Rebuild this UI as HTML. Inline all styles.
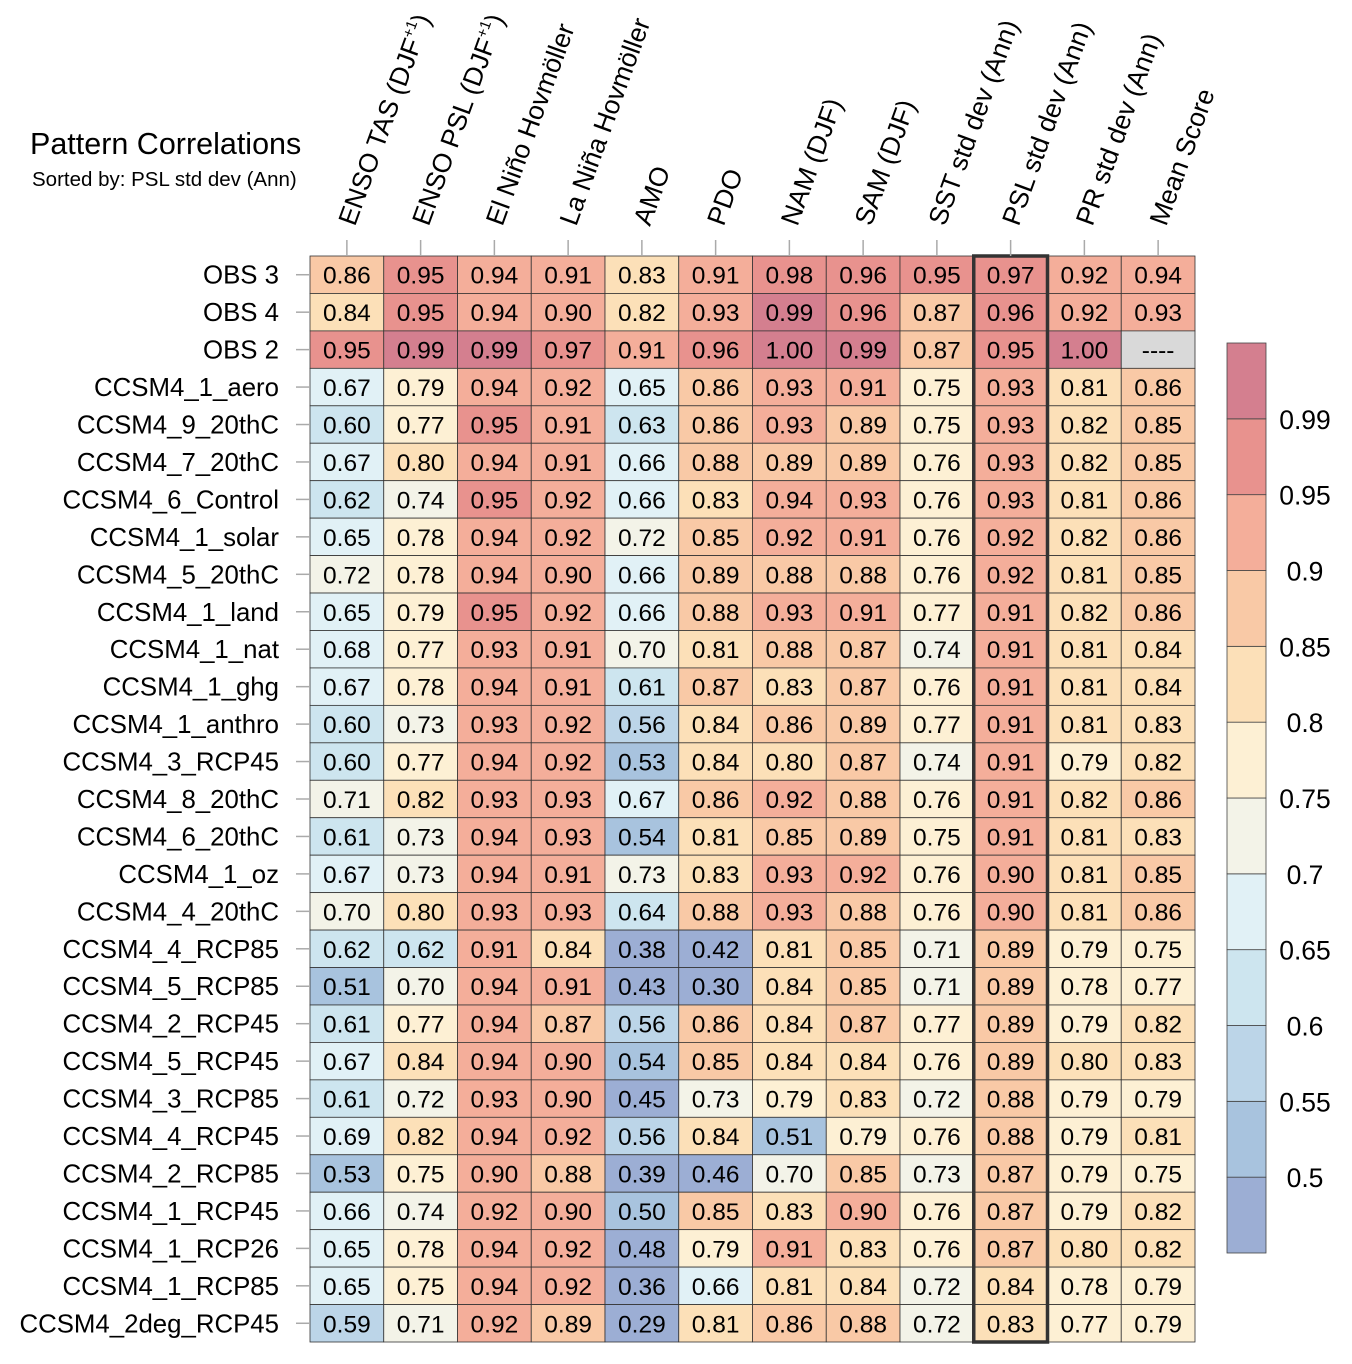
<!DOCTYPE html>
<html><head><meta charset="utf-8"><style>
body{margin:0;background:#fff;}
svg{display:block;font-family:"Liberation Sans",sans-serif;}
</style></head><body>
<svg id="chart" width="1352" height="1364" viewBox="0 0 1352 1364">
<text x="30" y="154" font-size="30.5">Pattern Correlations</text>
<text x="32" y="186" font-size="20.5">Sorted by: PSL std dev (Ann)</text>
<g id="cells"></g><g id="rowlabels"></g><g id="collabels"></g><g id="cbar"></g>
</svg>
<script>
const columns=["ENSO TAS (DJF+1)","ENSO PSL (DJF+1)","El Niño Hovmöller","La Niña Hovmöller","AMO","PDO","NAM (DJF)","SAM (DJF)","SST std dev (Ann)","PSL std dev (Ann)","PR std dev (Ann)","Mean Score"];
const rows=["OBS 3","OBS 4","OBS 2","CCSM4_1_aero","CCSM4_9_20thC","CCSM4_7_20thC","CCSM4_6_Control","CCSM4_1_solar","CCSM4_5_20thC","CCSM4_1_land","CCSM4_1_nat","CCSM4_1_ghg","CCSM4_1_anthro","CCSM4_3_RCP45","CCSM4_8_20thC","CCSM4_6_20thC","CCSM4_1_oz","CCSM4_4_20thC","CCSM4_4_RCP85","CCSM4_5_RCP85","CCSM4_2_RCP45","CCSM4_5_RCP45","CCSM4_3_RCP85","CCSM4_4_RCP45","CCSM4_2_RCP85","CCSM4_1_RCP45","CCSM4_1_RCP26","CCSM4_1_RCP85","CCSM4_2deg_RCP45"];
const values=[
[0.86,0.95,0.94,0.91,0.83,0.91,0.98,0.96,0.95,0.97,0.92,0.94],
[0.84,0.95,0.94,0.90,0.82,0.93,0.99,0.96,0.87,0.96,0.92,0.93],
[0.95,0.99,0.99,0.97,0.91,0.96,1.00,0.99,0.87,0.95,1.00,null],
[0.67,0.79,0.94,0.92,0.65,0.86,0.93,0.91,0.75,0.93,0.81,0.86],
[0.60,0.77,0.95,0.91,0.63,0.86,0.93,0.89,0.75,0.93,0.82,0.85],
[0.67,0.80,0.94,0.91,0.66,0.88,0.89,0.89,0.76,0.93,0.82,0.85],
[0.62,0.74,0.95,0.92,0.66,0.83,0.94,0.93,0.76,0.93,0.81,0.86],
[0.65,0.78,0.94,0.92,0.72,0.85,0.92,0.91,0.76,0.92,0.82,0.86],
[0.72,0.78,0.94,0.90,0.66,0.89,0.88,0.88,0.76,0.92,0.81,0.85],
[0.65,0.79,0.95,0.92,0.66,0.88,0.93,0.91,0.77,0.91,0.82,0.86],
[0.68,0.77,0.93,0.91,0.70,0.81,0.88,0.87,0.74,0.91,0.81,0.84],
[0.67,0.78,0.94,0.91,0.61,0.87,0.83,0.87,0.76,0.91,0.81,0.84],
[0.60,0.73,0.93,0.92,0.56,0.84,0.86,0.89,0.77,0.91,0.81,0.83],
[0.60,0.77,0.94,0.92,0.53,0.84,0.80,0.87,0.74,0.91,0.79,0.82],
[0.71,0.82,0.93,0.93,0.67,0.86,0.92,0.88,0.76,0.91,0.82,0.86],
[0.61,0.73,0.94,0.93,0.54,0.81,0.85,0.89,0.75,0.91,0.81,0.83],
[0.67,0.73,0.94,0.91,0.73,0.83,0.93,0.92,0.76,0.90,0.81,0.85],
[0.70,0.80,0.93,0.93,0.64,0.88,0.93,0.88,0.76,0.90,0.81,0.86],
[0.62,0.62,0.91,0.84,0.38,0.42,0.81,0.85,0.71,0.89,0.79,0.75],
[0.51,0.70,0.94,0.91,0.43,0.30,0.84,0.85,0.71,0.89,0.78,0.77],
[0.61,0.77,0.94,0.87,0.56,0.86,0.84,0.87,0.77,0.89,0.79,0.82],
[0.67,0.84,0.94,0.90,0.54,0.85,0.84,0.84,0.76,0.89,0.80,0.83],
[0.61,0.72,0.93,0.90,0.45,0.73,0.79,0.83,0.72,0.88,0.79,0.79],
[0.69,0.82,0.94,0.92,0.56,0.84,0.51,0.79,0.76,0.88,0.79,0.81],
[0.53,0.75,0.90,0.88,0.39,0.46,0.70,0.85,0.73,0.87,0.79,0.75],
[0.66,0.74,0.92,0.90,0.50,0.85,0.83,0.90,0.76,0.87,0.79,0.82],
[0.65,0.78,0.94,0.92,0.48,0.79,0.91,0.83,0.76,0.87,0.80,0.82],
[0.65,0.75,0.94,0.92,0.36,0.66,0.81,0.84,0.72,0.84,0.78,0.79],
[0.59,0.71,0.92,0.89,0.29,0.81,0.86,0.88,0.72,0.83,0.77,0.79]];
const levels=[0.5,0.55,0.6,0.65,0.7,0.75,0.8,0.85,0.9,0.95,0.99];
const levelLabels=["0.5","0.55","0.6","0.65","0.7","0.75","0.8","0.85","0.9","0.95","0.99"];
const palette=["#9caed4","#a8c3de","#bcd5e8","#cde5ef","#e1f1f6","#f3f3e8","#fdf0d4","#fce0b8","#f9c9a6","#f4ae9a","#e8928e","#d47f8f"];
const highlightCol=9;
const NS="http://www.w3.org/2000/svg";
const X0=310,X1=1195,Y0=256,Y1=1342;
const cw=(X1-X0)/columns.length, rh=(Y1-Y0)/rows.length;
const xPos=i=>X0+i*cw, yPos=j=>Y0+j*rh;
function colorFor(v){if(v===null)return"#d9d9d9";let k=0;for(let i=0;i<levels.length;i++){if(v>=levels[i]-1e-9)k=i+1;}return palette[k];}
function mk(t,a,p){const e=document.createElementNS(NS,t);for(const k in a)e.setAttribute(k,a[k]);p.appendChild(e);return e;}
const cells=document.getElementById('cells');
values.forEach((r,j)=>r.forEach((v,i)=>{
 const c=mk('rect',{x:xPos(i),y:yPos(j),width:cw,height:rh,fill:colorFor(v),stroke:"#333","stroke-width":0.8},cells);
 
 
 const t=mk('text',{x:xPos(i)+cw/2,y:yPos(j)+rh/2+9,"font-size":24.5,"text-anchor":"middle"},cells);
 t.textContent=v===null?"----":v.toFixed(2);
 
 
}));
const hb=mk('rect',{x:xPos(highlightCol),y:Y0,width:cw,height:Y1-Y0,fill:"none",stroke:"#333","stroke-width":3.5},cells);


const rl=document.getElementById('rowlabels');
rows.forEach((n,j)=>{
 const cy=yPos(j)+rh/2;
 mk('line',{x1:296,x2:X0,y1:cy,y2:cy,stroke:"#aaa","stroke-width":1.5},rl);
 const t=mk('text',{x:279,y:cy+9,"font-size":25.8,"text-anchor":"end"},rl);
 t.textContent=n;
 
 
});
const cl=document.getElementById('collabels');
columns.forEach((n,i)=>{
 const cx=xPos(i)+cw/2;
 mk('line',{x1:cx,x2:cx,y1:240,y2:Y0,stroke:"#aaa","stroke-width":1.5},cl);
 const t=mk('text',{transform:`translate(${cx+8},227) rotate(-70)`,"font-size":26.5},cl);
 const m=n.match(/^(.*DJF)\+1(\))$/);
 if(m){t.textContent=m[1];const s=mk('tspan',{"font-size":15,dy:-11},t);s.textContent="+1";const s2=mk('tspan',{dy:11},t);s2.textContent=")";}
 else t.textContent=n;
 
 
});
const cb=document.getElementById('cbar');
const CB0=343,CB1=1253,CBX=1227,CBW=39,bh=(CB1-CB0)/palette.length;
palette.forEach((c,k)=>{
 const r=mk('rect',{x:CBX,y:CB1-(k+1)*bh,width:CBW,height:bh,fill:c,stroke:"#444","stroke-width":0.8},cb);
 
 
});
levelLabels.forEach((l,k)=>{
 const y=CB1-(k+1)*bh;
 const t=mk('text',{x:1305,y:y+10,"font-size":26.5,"text-anchor":"middle"},cb);
 t.textContent=l;
 
 
});
</script>
</body></html>
